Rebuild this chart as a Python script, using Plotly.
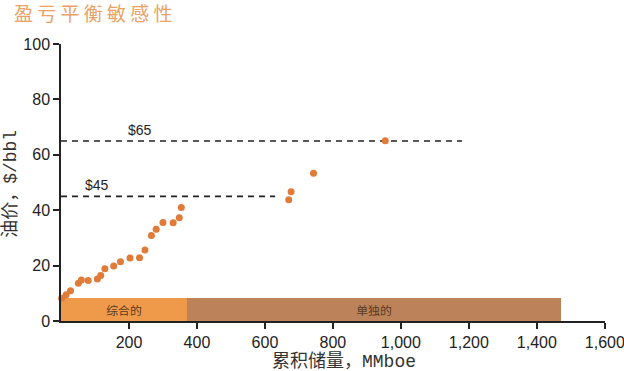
import plotly.graph_objects as go

# Data
reserves = [2, 15, 28, 51, 60, 80, 107, 117, 129, 155, 175, 203, 231, 247, 266, 280, 300, 330, 348, 354,
            670, 677, 743, 954]
prices = [8.2, 9.5, 10.9, 13.6, 14.8, 14.6, 15.2, 16.4, 18.9, 19.9, 21.4, 22.7, 22.8, 25.6, 30.9, 33.1, 35.6, 35.5, 37.3, 41.0,
          43.8, 46.7, 53.3, 65.1]

band_labels = ["综合的", "单独的"]
band_start = [0, 370]
band_end = [370, 1470]
band_height = [8.2, 8.2]
band_colors = ["#EE9A4A", "#BC8259"]

line_labels = ["$65", "$45"]
line_prices = [65, 45]
line_end = [1180, 630]
label_x = [232, 106]

x_ticks = [200, 400, 600, 800, 1000, 1200, 1400, 1600]
x_ticktext = ["200", "400", "600", "800", "1,000", "1,200", "1,400", "1,600"]
y_ticks = [0, 20, 40, 60, 80, 100]

fig = go.Figure()

fig.add_trace(go.Bar(
    x=[(s + e) / 2 for s, e in zip(band_start, band_end)],
    y=band_height,
    width=[e - s for s, e in zip(band_start, band_end)],
    marker=dict(color=band_colors, line=dict(width=0)),
    text=band_labels,
    textposition="inside",
    insidetextanchor="middle",
    textangle=0,
    textfont=dict(family="Noto Sans CJK SC", size=14, color="#5a3a22"),
    hoverinfo="skip",
    showlegend=False,
))

for lab, p, e, lx in zip(line_labels, line_prices, line_end, label_x):
    fig.add_trace(go.Scatter(
        x=[0, e], y=[p, p], mode="lines",
        line=dict(color="#222222", width=1.6, dash="6px,5px"),
        showlegend=False, hoverinfo="skip",
    ))
    fig.add_annotation(x=lx, y=p, text=lab, showarrow=False, yanchor="bottom", yshift=1,
                       font=dict(family="Liberation Sans", size=14, color="#222222"))

fig.add_trace(go.Scatter(
    x=reserves, y=prices, mode="markers",
    marker=dict(color="#E07B39", size=7),
    showlegend=False, cliponaxis=False,
))

# Title and axis titles
fig.add_annotation(xref="paper", yref="paper", x=-0.09, y=1.115, xanchor="left", yanchor="middle",
                   text="盈 亏 平 衡 敏 感 性", showarrow=False,
                   font=dict(family="Noto Sans CJK SC", size=19, color="#E9A263"))
fig.add_annotation(xref="paper", yref="paper", x=0.52, y=-0.148, xanchor="center", yanchor="middle",
                   text="累积储量，MMboe", showarrow=False,
                   font=dict(family="Liberation Mono, Noto Sans CJK SC", size=18, color="#333333"))
fig.add_annotation(xref="paper", yref="paper", x=-0.092, y=0.495, xanchor="center", yanchor="middle",
                   text="油价，$/bbl", showarrow=False, textangle=-90,
                   font=dict(family="Liberation Mono, Noto Sans CJK SC", size=18, color="#333333"))

fig.update_layout(
    width=624, height=371,
    margin=dict(l=61, r=19, t=44, b=50, autoexpand=False),
    plot_bgcolor="white", paper_bgcolor="white",
    bargap=0,
)
fig.update_xaxes(
    range=[0, 1600.5], tickvals=x_ticks, ticktext=x_ticktext, automargin=False,
    ticklabeloverflow="allow",
    showline=True, linecolor="#222222", linewidth=1.5,
    ticks="outside", ticklen=6, tickcolor="#222222", tickwidth=1.5,
    showgrid=False, zeroline=False,
    tickfont=dict(family="Liberation Sans", size=16, color="#222222"),
)
fig.update_yaxes(
    range=[0, 100], tickvals=y_ticks, automargin=False,
    showline=True, linecolor="#222222", linewidth=1.5,
    ticks="outside", ticklen=6, tickcolor="#222222", tickwidth=1.5,
    showgrid=False, zeroline=False,
    tickfont=dict(family="Liberation Sans", size=16, color="#222222"),
)

fig.write_html("out.html", config={"displayModeBar": False},
               post_script="document.body.style.margin='0';document.body.style.overflow='hidden';")
